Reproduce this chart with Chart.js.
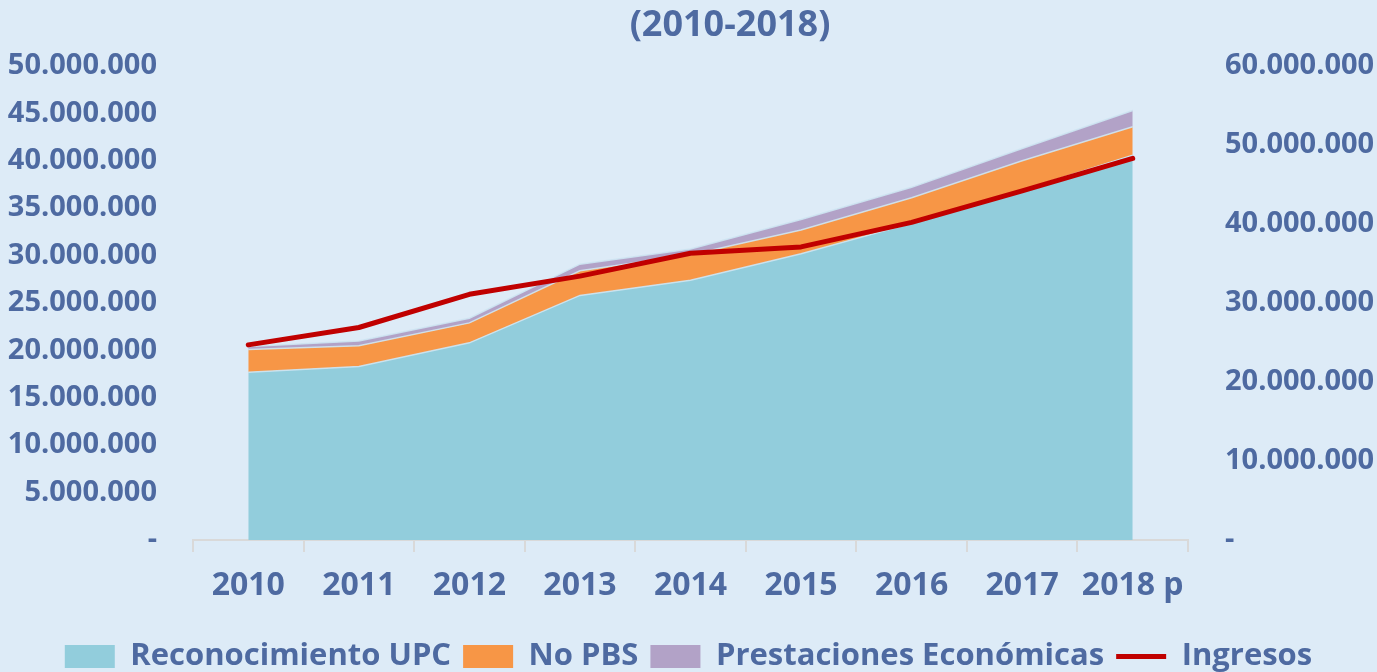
<!DOCTYPE html>
<html>
<head>
<meta charset="utf-8">
<script src="https://cdn.jsdelivr.net/npm/chart.js@4.4.1/dist/chart.umd.min.js"></script>
<style>
  html, body { margin: 0; padding: 0; background: #DDEBF7; }
  #wrap { width: 1377px; height: 672px; position: relative; }
</style>
</head>
<body>
<div id="wrap"><canvas id="c"></canvas></div>
<script>
// ---- data ----
const categories = ['2010', '2011', '2012', '2013', '2014', '2015', '2016', '2017', '2018 p'];
const reconocimientoUPC = [17700000, 18300000, 20800000, 25800000, 27400000, 30200000, 33400000, 36900000, 40600000];
const noPBS = [2400000, 2200000, 2100000, 2600000, 2700000, 2500000, 2700000, 3100000, 3000000];
const prestacionesEconomicas = [300000, 500000, 500000, 700000, 600000, 1100000, 1100000, 1300000, 1700000];
const ingresos = [24700000, 26900000, 31100000, 33400000, 36300000, 37100000, 40200000, 44200000, 48300000];
const titleText = '(2010-2018)';
const seriesNames = ['Reconocimiento UPC', 'No PBS', 'Prestaciones Económicas', 'Ingresos'];

const TEXT = '#4E6AA1';
const FONT = "'Open Sans', 'Liberation Sans', sans-serif";

function fmt(v) {
  if (v === 0) return '-';
  return String(Math.round(v)).replace(/\B(?=(\d{3})+(?!\d))/g, '.');
}

const titlePlugin = {
  id: 'customTitle',
  afterDraw(chart) {
    const ctx = chart.ctx;
    ctx.save();
    ctx.font = "bold 36px " + FONT;
    ctx.fillStyle = TEXT;
    ctx.textAlign = 'center';
    ctx.textBaseline = 'middle';
    ctx.fillText(titleText, 730, 26);
    ctx.restore();
  }
};

const EDGE = 'rgba(205,228,242,0.9)';

const ctx = document.getElementById('c');
new Chart(ctx, {
  type: 'line',
  data: {
    labels: categories,
    datasets: [
      {
        label: seriesNames[0], data: reconocimientoUPC, yAxisID: 'y',
        backgroundColor: '#92CDDC', borderColor: EDGE, borderWidth: 1.5,
        fill: 'origin', pointRadius: 0, tension: 0, order: 1
      },
      {
        label: seriesNames[1], data: noPBS, yAxisID: 'y',
        backgroundColor: '#F79646', borderColor: EDGE, borderWidth: 1.5,
        fill: '-1', pointRadius: 0, tension: 0, order: 1
      },
      {
        label: seriesNames[2], data: prestacionesEconomicas, yAxisID: 'y',
        backgroundColor: '#B2A2C7', borderColor: EDGE, borderWidth: 1.5,
        fill: '-1', pointRadius: 0, tension: 0, order: 1
      },
      {
        label: seriesNames[3], data: ingresos, yAxisID: 'y1',
        backgroundColor: '#C00000', borderColor: '#C00000', borderWidth: 5,
        fill: false, pointRadius: 0, tension: 0, borderCapStyle: 'round', borderJoinStyle: 'round',
        order: 0, stack: 'ing'
      }
    ]
  },
  options: {
    responsive: true,
    maintainAspectRatio: false,
    animation: false,
    layout: { padding: { top: 66, left: 0, right: 0, bottom: -10 } },
    plugins: {
      title: { display: false },
      tooltip: { enabled: false },
      legend: {
        display: true,
        position: 'bottom',
        labels: {
          color: TEXT,
          font: { family: FONT, size: 31, weight: 'bold' },
          usePointStyle: true,
          pointStyleWidth: 50,
          boxHeight: 23,
          padding: 12,
          sort: (a, b) => a.datasetIndex - b.datasetIndex,
          generateLabels(chart) {
            return chart.data.datasets.map((ds, i) => ({
              text: ds.label,
              datasetIndex: i,
              fillStyle: ds.backgroundColor,
              strokeStyle: ds.borderColor,
              lineWidth: i === 3 ? 5 : 0,
              pointStyle: i === 3 ? 'line' : 'rect',
              fontColor: TEXT,
              hidden: false
            }));
          }
        }
      }
    },
    scales: {
      x: {
        offset: true,
        grid: { display: true, drawOnChartArea: false, drawTicks: true, tickLength: 12, color: '#D9D9D9', lineWidth: 2, offset: true },
        border: { display: true, color: '#D9D9D9', width: 2 },
        ticks: { color: TEXT, font: { family: FONT, size: 32, weight: 'bold' }, padding: 15, maxRotation: 0, autoSkip: false },
        afterFit(s) { s.height = 89; }
      },
      y: {
        position: 'left',
        stacked: true,
        min: 0, max: 50000000,
        grid: { display: false, drawTicks: false },
        border: { display: false },
        ticks: { stepSize: 5000000, color: TEXT, font: { family: FONT, size: 29, weight: 'bold' }, padding: 36, callback: v => fmt(v) },
        afterFit(s) { s.width = 193; }
      },
      y1: {
        position: 'right',
        min: 0, max: 60000000,
        grid: { display: false, drawTicks: false },
        border: { display: false },
        ticks: { stepSize: 10000000, color: TEXT, font: { family: FONT, size: 29, weight: 'bold' }, padding: 37, callback: v => fmt(v) },
        afterFit(s) { s.width = 189; }
      }
    }
  },
  plugins: [titlePlugin]
});
</script>
</body>
</html>
